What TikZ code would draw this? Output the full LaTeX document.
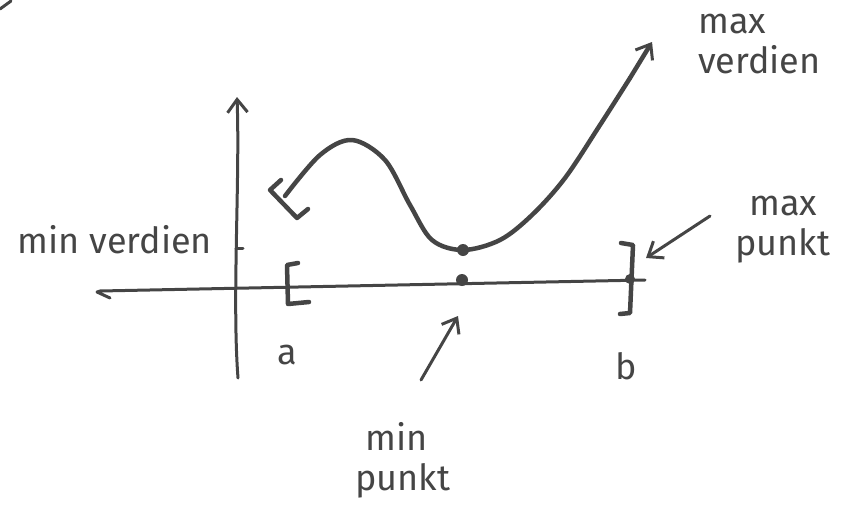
\documentclass[tikz,border=0pt]{standalone}
\usepackage{fontspec}
\setmainfont{Fira Sans}
\usetikzlibrary{arrows.meta}
\definecolor{ink}{HTML}{454545}
\tikzset{
  ink/.style={draw=ink, line width=4.5pt, line cap=round, line join=round},
  thin ink/.style={draw=ink, line width=3pt, line cap=round, line join=round},
  dot/.style={fill=ink, draw=none},
  hand/.style={text=ink, font=\fontsize{36}{40}\selectfont, inner sep=0pt, align=left},
  barb/.style={-{Straight Barb[length=13pt,width=20pt,line width=3pt]}}
}
\begin{document}
\begin{tikzpicture}[x=1pt,y=-1pt]
\useasboundingbox (0,0) rectangle (866,522);
% stray stroke top-left
\coordinate (s1) at (0,9); \coordinate (s2) at (11,1);
\draw[thin ink] (s1) -- (s2);
% axes
\coordinate (ybot) at (238,378);
\coordinate (ytop) at (237,97);
\draw[thin ink, barb] (ybot) .. controls (232,300) and (240,180) .. (ytop);
\coordinate (xl) at (100,291);
\coordinate (xr) at (645,280);
\coordinate (hook) at (110,298);
\draw[thin ink] (hook) -- (97,292) -- (xl) -- (xr);
% tick at min value
\coordinate (t1) at (236,248); \coordinate (t2) at (243,248);
\draw[thin ink] (t1) -- (t2);
% interval brackets
\draw[ink] (298,263) -- (287,265) -- (288,304) -- (309,302);
\draw[ink] (621,243) -- (633,245) -- (630,313) -- (620,314);
% min point on axis and max point
\coordinate (minx) at (462,280);
\fill[dot] (minx) circle (6pt);
\coordinate (maxx) at (630,279);
\fill[dot] (maxx) circle (5pt);
% the curve
\coordinate (c0) at (285,196);
\coordinate (cmin) at (463,250);
\coordinate (cend) at (652,42);
\draw[ink] (281,180) -- (270,190) -- (297,218) -- (308,209);
\draw[ink] plot[smooth, tension=0.55] coordinates {(285,196) (320,155) (352,140) (385,160) (410,205) (432,240) (463,250) (500,240) (532,215) (565,178) (600,125) (630,78)};
\draw[ink, barb] (630,78) -- (cend);
\fill[dot] (cmin) circle (6pt);
% labels
\node[hand, anchor=north west] (maxv) at (698,14) {max\\verdien};
\node[hand] (minv) at (115,240) {min verdien};
\node[hand, anchor=north west] (maxp) at (735,196) {\hspace*{14pt}max\\punkt};
\node[hand, anchor=north west] (minp) at (355,422) {\hspace*{10pt}min\\punkt};
\node[hand] (la) at (287,355) {a};
\node[hand] (lb) at (626,366) {b};
% pointer arrows
\coordinate (mpa) at (421,380);
\coordinate (mpb) at (458,316);
\draw[thin ink, barb] (mpa) -- (mpb);
\coordinate (mxa) at (710,216);
\coordinate (mxb) at (646,258);
\draw[thin ink, barb] (mxa) -- (mxb);
\end{tikzpicture}
\end{document}
